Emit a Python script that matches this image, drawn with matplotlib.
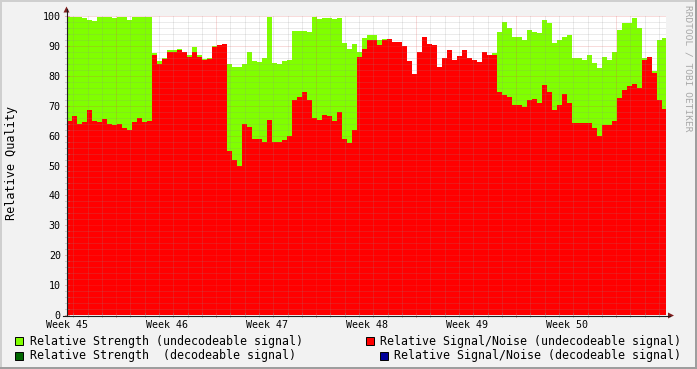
import matplotlib

matplotlib.use("Agg")
import matplotlib.pyplot as plt
import numpy as np
from matplotlib.patches import Polygon, Rectangle

W, H = 697, 369
PX_PER_DAY = 100 / 7

# one sample every 5 pixels (0.35 days), starting at the Week 45 label
SAMPLE_DAYS = 0.35

week_labels = ["Week 45", "Week 46", "Week 47", "Week 48", "Week 49", "Week 50"]
week_days = [0, 7, 14, 21, 28, 35]

strength_undecodeable = [
    99.6, 99.6, 99.5, 99.2, 98.8, 98.4, 99.6, 99.6, 99.6, 99.4,
    99.5, 99.6, 98.8, 99.6, 99.6, 99.6, 99.6, 87.5, 85.0, 85.8,
    88.5, 88.5, 89.0, 88.0, 87.0, 89.5, 87.0, 85.5, 86.0, 89.8,
    90.4, 90.6, 84.0, 83.0, 83.0, 84.0, 88.0, 85.0, 84.5, 86.0,
    99.8, 84.4, 84.0, 85.0, 85.3, 95.0, 95.1, 95.0, 94.5, 99.5,
    99.0, 99.2, 99.2, 99.0, 99.2, 91.0, 89.0, 90.5, 88.0, 92.5,
    93.5, 93.5, 92.0, 92.2, 92.2, 91.4, 91.4, 89.8, 85.0, 80.5,
    88.0, 93.0, 90.5, 90.3, 83.0, 86.0, 88.5, 85.3, 86.5, 88.7,
    86.0, 85.3, 84.5, 87.8, 86.8, 87.5, 94.5, 98.0, 96.0, 93.1,
    93.1, 92.0, 95.3, 94.5, 94.2, 98.7, 97.5, 90.9, 92.0, 93.0,
    93.7, 85.9, 85.9, 85.3, 87.0, 84.2, 82.5, 86.4, 85.3, 88.0,
    95.3, 97.6, 97.6, 99.2, 96.0, 85.8, 86.4, 81.5, 92.0, 92.5,
]

snr_undecodeable = [
    65.0, 66.5, 64.0, 64.5, 68.5, 65.0, 64.5, 65.5, 64.0, 63.5,
    64.0, 62.5, 62.0, 64.5, 66.0, 64.5, 65.0, 87.0, 84.0, 85.5,
    88.0, 88.0, 88.5, 87.8, 86.4, 88.0, 86.4, 85.3, 85.5, 89.5,
    90.3, 90.5, 55.0, 52.0, 50.0, 64.0, 63.0, 59.0, 59.0, 58.0,
    65.3, 58.0, 58.0, 58.5, 59.8, 72.0, 73.0, 74.5, 72.0, 66.0,
    65.3, 67.0, 66.4, 64.8, 68.0, 59.0, 57.5, 62.0, 86.4, 89.0,
    92.0, 92.0, 90.3, 92.0, 92.2, 91.4, 91.4, 89.8, 85.0, 80.5,
    88.0, 93.0, 90.5, 90.3, 83.0, 86.0, 88.5, 85.3, 86.5, 88.7,
    86.0, 85.3, 84.5, 87.8, 86.8, 87.0, 74.5, 73.5, 73.0, 70.3,
    70.3, 69.5, 72.0, 72.2, 71.0, 77.0, 74.5, 68.7, 70.3, 74.0,
    71.0, 64.2, 64.2, 64.2, 64.2, 62.6, 60.0, 63.7, 63.7, 65.0,
    72.5, 75.3, 76.7, 77.3, 75.8, 85.3, 86.2, 81.0, 72.0, 69.0,
]

legend_labels = [
    "Relative Strength (undecodeable signal)",
    "Relative Signal/Noise (undecodeable signal)",
    "Relative Strength  (decodeable signal)",
    "Relative Signal/Noise (decodeable signal)",
]
legend_colors = ["#80FF00", "#FF0000", "#006600", "#000099"]

BACK = "#F2F2F2"
GRID = (0.56, 0.56, 0.56, 0.35)
MGRID = (0.87, 0.31, 0.31, 0.4)
ARROW = "#801F1F"
AXIS = "#1F1F1F"
MONO = "DejaVu Sans Mono"


def fx(x):
    return x / W


def fy(y):
    return 1 - y / H


fig = plt.figure(figsize=(W / 100, H / 100), dpi=100, facecolor=BACK)

# 3d frame like rrdtool
fig.add_artist(Rectangle((0, 0), fx(2), 1, transform=fig.transFigure, color="#CFCFCF", lw=0))
fig.add_artist(Rectangle((0, 1 - 2 / H), 1, 2 / H, transform=fig.transFigure, color="#CFCFCF", lw=0))
fig.add_artist(Rectangle((1 - 2 / W, 0), 2 / W, 1, transform=fig.transFigure, color="#9E9E9E", lw=0))
fig.add_artist(Rectangle((0, 0), 1, 2 / H, transform=fig.transFigure, color="#9E9E9E", lw=0))

ax = fig.add_axes([fx(67), fy(315), 599 / W, 299 / H])
ax.set_facecolor("white")

n = len(strength_undecodeable)
edges = np.arange(n + 1) * SAMPLE_DAYS
ax.stairs(strength_undecodeable, edges, fill=True, baseline=0, color="#80FF00", lw=0, zorder=1)
ax.stairs(snr_undecodeable, edges, fill=True, baseline=0, color="#FF0000", lw=0, zorder=2)

xmax = 599 / PX_PER_DAY
ax.set_xlim(0, xmax)
ax.set_ylim(0, 100)

# grid: minor every 2 units / every day, major every 10 units / every week
dots = (0, (1, 1))
for v in range(2, 101, 2):
    c = MGRID if v % 10 == 0 else GRID
    ax.axhline(v, color=c, lw=0.72, ls=dots, zorder=3)
day_offset = 0.44
d = day_offset
while d < xmax:
    k = round((d - day_offset) % 7, 3)
    c = MGRID if abs(k - 3) < 0.01 else GRID
    ax.axvline(d, color=c, lw=0.72, ls=dots, zorder=3)
    d += 1

for s in ax.spines.values():
    s.set_visible(False)

ax.set_yticks(range(0, 101, 10))
ax.set_yticklabels([str(v) for v in range(0, 101, 10)], fontfamily=MONO, fontsize=7.2)
ax.set_xticks(week_days)
ax.set_xticklabels(week_labels, fontfamily=MONO, fontsize=7.2)
ax.tick_params(axis="y", length=0, pad=4.5)
ax.tick_params(axis="x", length=0, pad=3.5)

# small rrdtool tick marks on the axes
for v in range(0, 101, 2):
    c = MGRID if v % 10 == 0 else GRID
    ax.plot([-2 / PX_PER_DAY, 2 / PX_PER_DAY], [v, v], color=c, lw=0.72, clip_on=False, zorder=4)
d = day_offset
while d < xmax:
    k = round((d - day_offset) % 7, 3)
    c = MGRID if abs(k - 3) < 0.01 else GRID
    ax.plot([d, d], [-0.7, 0.7], color=c, lw=0.72, clip_on=False, zorder=4)
    d += 1

# axis lines and arrows
fig.add_artist(plt.Line2D([fx(66.5), fx(66.5)], [fy(315.5), fy(9)], color=AXIS, lw=0.8))
fig.add_artist(plt.Line2D([fx(63), fx(670)], [fy(315.5), fy(315.5)], color=AXIS, lw=0.8))
fig.add_artist(Polygon([(fx(63.5), fy(12.5)), (fx(69.5), fy(12.5)), (fx(66.5), fy(6.5))],
                       closed=True, transform=fig.transFigure, color=ARROW, lw=0))
fig.add_artist(Polygon([(fx(668), fy(312.5)), (fx(668), fy(318.5)), (fx(674), fy(315.5))],
                       closed=True, transform=fig.transFigure, color=ARROW, lw=0))

fig.text(fx(12), fy(163), "Relative Quality", rotation=90, ha="center", va="center",
         fontfamily=MONO, fontsize=8.6)
fig.text(fx(688), fy(5), "RRDTOOL / TOBI OETIKER", rotation=270, ha="center", va="top",
         fontfamily=MONO, fontsize=6.8, color="#A8A8A8")

# legend
box_x = [15, 365.5, 15, 379.5]
text_x = [30, 380, 30, 394]
row_y = [341, 341, 355.5, 355.5]
for label, color, bx, tx, ry in zip(legend_labels, legend_colors, box_x, text_x, row_y):
    fig.add_artist(Rectangle((fx(bx), fy(ry + 4)), 8 / W, 8 / H, transform=fig.transFigure,
                             facecolor=color, edgecolor="black", lw=0.7))
    fig.text(fx(tx), fy(ry), label, ha="left", va="center", fontfamily=MONO, fontsize=8.4)

fig.savefig("out.png", dpi=100, facecolor=BACK)
